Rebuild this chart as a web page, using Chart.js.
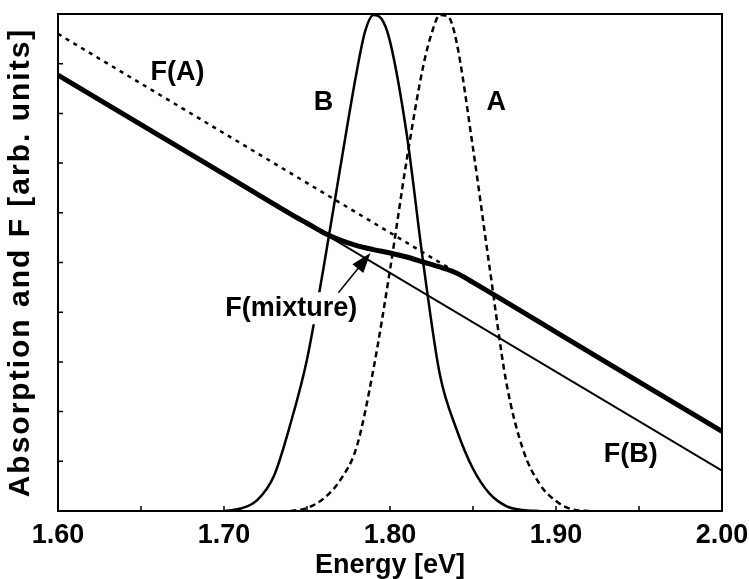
<!DOCTYPE html>
<html>
<head>
<meta charset="utf-8">
<title>Absorption and F</title>
<script src="https://cdn.jsdelivr.net/npm/chart.js@4.4.1/dist/chart.umd.min.js"></script>
<style>
  html, body { margin: 0; padding: 0; background: #fff; }
  #wrap { width: 749px; height: 579px; }
</style>
</head>
<body>
<div id="wrap"><canvas id="chart" width="749" height="579"></canvas></div>
<script>
// --- data (energy in eV, arbitrary units 0..10) ---
const lineE = [1.60, 2.00];
const fA = [9.6, 1.6];          // F(A), dashed straight line
const fB = [8.77, 0.81];        // F(B), thin straight line

const mixE = [1.60, 1.70, 1.74, 1.75, 1.76, 1.77, 1.78, 1.79, 1.80, 1.81, 1.82, 1.83, 1.84, 1.85, 1.90, 2.00];
const fMix = [8.77, 6.78, 5.98, 5.79, 5.60, 5.45, 5.34, 5.26, 5.19, 5.11, 5.01, 4.91, 4.79, 4.60, 3.60, 1.60];

const bE = [1.70, 1.71, 1.72, 1.73, 1.74, 1.75, 1.76, 1.77, 1.78, 1.785, 1.79, 1.795, 1.80, 1.81, 1.82, 1.83, 1.84, 1.85, 1.86, 1.87, 1.88, 1.89];
const absB = [0, 0.05, 0.22, 0.7, 1.75, 3.05, 4.9, 6.9, 8.85, 9.65, 9.98, 9.9, 9.45, 7.6, 5.0, 2.75, 1.65, 0.85, 0.35, 0.1, 0.02, 0];

const aE = [1.74, 1.75, 1.76, 1.77, 1.78, 1.79, 1.80, 1.81, 1.82, 1.825, 1.83, 1.835, 1.84, 1.85, 1.86, 1.87, 1.88, 1.89, 1.90, 1.91, 1.92];
const absA = [0, 0.06, 0.25, 0.62, 1.3, 2.85, 4.85, 7.05, 8.95, 9.6, 9.98, 9.95, 9.45, 7.3, 4.9, 2.6, 1.25, 0.55, 0.2, 0.03, 0];

const xTicks = [1.60, 1.70, 1.80, 1.90, 2.00];
const yTitle = 'Absorption and F [arb. units]';

// text labels placed in data coordinates
const notes = [
    { text: 'F(A)', e: 1.672, v: 8.83 },
    { text: 'B', e: 1.760, v: 8.21 },
    { text: 'A', e: 1.864, v: 8.21 },
    { text: 'F(mixture)', e: 1.7405, v: 4.08, box: true },
    { text: 'F(B)', e: 1.945, v: 1.13 }
];
const arrow = { from: [1.7689, 4.39], to: [1.7882, 5.19] };

const pts = (xs, ys) => xs.map((x, i) => ({ x: x, y: ys[i] }));
const FONT = '"Liberation Sans", Arial, Helvetica, sans-serif';
Chart.defaults.font.family = FONT;
Chart.defaults.color = '#000';

// frame, inward ticks, y title, labels and arrow
const decor = {
    id: 'decor',
    afterDatasetsDraw(chart) {
        const { ctx, chartArea: a, scales: { x, y } } = chart;
        ctx.save();
        ctx.strokeStyle = '#000';
        ctx.lineWidth = 2;
        ctx.strokeRect(a.left, a.top, a.width, a.height);

        ctx.lineWidth = 1.5;
        ctx.beginPath();
        x.ticks.forEach(t => {
            const px = x.getPixelForValue(t.value);
            ctx.moveTo(px, a.bottom); ctx.lineTo(px, a.bottom - 5);
        });
        y.ticks.forEach(t => {
            const py = y.getPixelForValue(t.value);
            ctx.moveTo(a.left, py); ctx.lineTo(a.left + 5, py);
        });
        ctx.stroke();

        // y axis title (spaced out like the original)
        ctx.save();
        ctx.translate(21, (a.top + a.bottom) / 2);
        ctx.rotate(-Math.PI / 2);
        ctx.font = 'bold 30px ' + FONT;
        ctx.letterSpacing = '2px';
        ctx.textAlign = 'center';
        ctx.textBaseline = 'middle';
        ctx.fillStyle = '#000';
        ctx.fillText(yTitle, 0, 0);
        ctx.restore();

        ctx.font = 'bold 27px ' + FONT;
        ctx.textAlign = 'center';
        ctx.textBaseline = 'middle';
        notes.forEach(n => {
            const px = x.getPixelForValue(n.e), py = y.getPixelForValue(n.v);
            if (n.box) {
                const w = ctx.measureText(n.text).width;
                ctx.fillStyle = '#fff';
                ctx.fillRect(px - w / 2 - 3, py - 16, w + 6, 32);
            }
            ctx.fillStyle = '#000';
            ctx.fillText(n.text, px, py);
        });

        // arrow to F(mixture)
        const x0 = x.getPixelForValue(arrow.from[0]), y0 = y.getPixelForValue(arrow.from[1]);
        const x1 = x.getPixelForValue(arrow.to[0]), y1 = y.getPixelForValue(arrow.to[1]);
        const ang = Math.atan2(y1 - y0, x1 - x0);
        ctx.lineWidth = 1.5;
        ctx.beginPath();
        ctx.moveTo(x0, y0);
        ctx.lineTo(x1 - 14 * Math.cos(ang), y1 - 14 * Math.sin(ang));
        ctx.stroke();
        ctx.beginPath();
        ctx.moveTo(x1, y1);
        ctx.lineTo(x1 - 20 * Math.cos(ang) + 7 * Math.sin(ang), y1 - 20 * Math.sin(ang) - 7 * Math.cos(ang));
        ctx.lineTo(x1 - 20 * Math.cos(ang) - 7 * Math.sin(ang), y1 - 20 * Math.sin(ang) + 7 * Math.cos(ang));
        ctx.closePath();
        ctx.fillStyle = '#000';
        ctx.fill();
        ctx.restore();
    }
};

new Chart(document.getElementById('chart'), {
    type: 'scatter',
    data: {
        datasets: [
            { label: 'F(mixture)', data: pts(mixE, fMix), borderColor: '#000', borderWidth: 5, cubicInterpolationMode: 'monotone' },
            { label: 'F(B)', data: pts(lineE, fB), borderColor: '#000', borderWidth: 2 },
            { label: 'F(A)', data: pts(lineE, fA), borderColor: '#000', borderWidth: 2.5, borderDash: [4, 5] },
            { label: 'B', data: pts(bE, absB), borderColor: '#000', borderWidth: 2.5, cubicInterpolationMode: 'monotone' },
            { label: 'A', data: pts(aE, absA), borderColor: '#000', borderWidth: 2.5, borderDash: [6, 4], cubicInterpolationMode: 'monotone' }
        ]
    },
    options: {
        responsive: false,
        animation: false,
        showLine: true,
        elements: { point: { radius: 0 } },
        layout: { padding: { top: 14, right: 27, left: 0, bottom: 0 } },
        plugins: { legend: { display: false }, tooltip: { enabled: false } },
        scales: {
            x: {
                type: 'linear', min: 1.60, max: 2.00,
                afterFit: s => { s.height = 68; s.paddingLeft = 0; s.paddingRight = 0; },
                grid: { display: false, drawTicks: false },
                border: { display: false },
                ticks: {
                    stepSize: 0.05, padding: 8, maxRotation: 0, autoSkip: false,
                    font: { size: 27, weight: 'bold' },
                    callback: v => {
                        const hit = xTicks.find(t => Math.abs(t - v) < 1e-6);
                        return hit === undefined ? '' : hit.toFixed(2);
                    }
                },
                title: { display: true, text: 'Energy [eV]', font: { size: 27, weight: 'bold' }, padding: { top: 0, bottom: -3 } }
            },
            y: {
                min: 0, max: 10,
                afterFit: s => { s.width = 58; },
                grid: { display: false, drawTicks: false },
                border: { display: false },
                ticks: { stepSize: 1, display: false },
                title: { display: false, text: yTitle }
            }
        }
    },
    plugins: [decor]
});
</script>
</body>
</html>
